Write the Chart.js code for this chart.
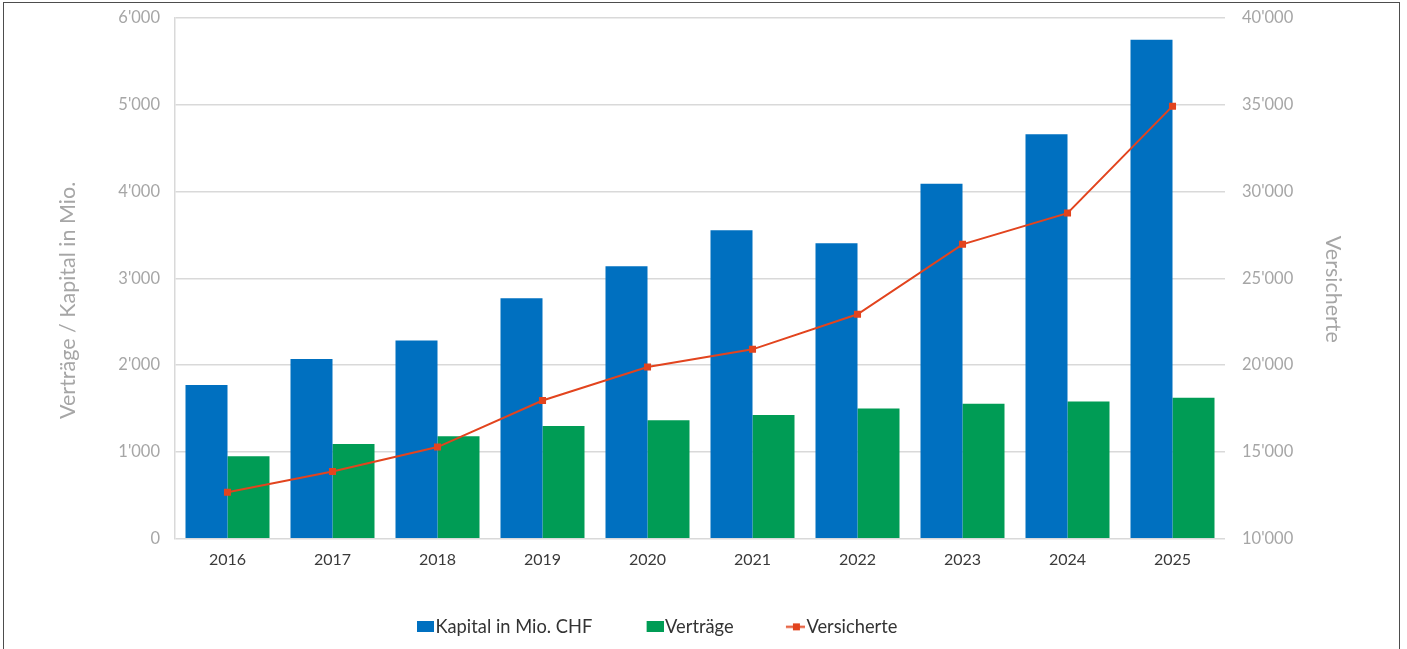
<!DOCTYPE html>
<html>
<head>
<meta charset="utf-8">
<script src="https://cdn.jsdelivr.net/npm/chart.js@4.4.1/dist/chart.umd.min.js"></script>
<style>
  html, body { margin: 0; padding: 0; background: #fff; overflow: hidden; }
  #wrap { position: relative; width: 1407px; height: 649px; }
  #frame { position: absolute; left: 3px; top: 2px; width: 1397px; height: 720px; border: 1.5px solid #4d4d4d; box-sizing: border-box; pointer-events: none; }
  canvas { position: absolute; left: 0; top: 0; }
</style>
</head>
<body>
<div id="wrap">
  <canvas id="myChart" width="1407" height="649" style="width:1407px;height:649px"></canvas>
  <div id="frame"></div>
</div>
<script>
const years = ['2016', '2017', '2018', '2019', '2020', '2021', '2022', '2023', '2024', '2025'];
const kapital = [1770, 2070, 2285, 2770, 3140, 3555, 3405, 4090, 4660, 5750];
const vertraege = [950, 1090, 1180, 1300, 1365, 1425, 1500, 1555, 1580, 1625];
const versicherte = [12680, 13870, 15280, 17960, 19890, 20910, 22930, 26960, 28760, 34920];

const BLUE = '#0070c0';
const GREEN = '#009c55';
const RED = '#e2441e';
const GREY = '#a6a6a6';
const FONT = 'Lato, "Open Sans", sans-serif';

// thousands with apostrophe, like 6'000
const fmt = (v) => String(v).replace(/\B(?=(\d{3})+(?!\d))/g, "'");

// legend keys: 17px mark at the right end, empty space on the left for spacing
const KEY_M = 17;
function keyBox(color) {
  const c = document.createElement('canvas');
  c.width = KEY_M + 17; c.height = 11;
  const g = c.getContext('2d');
  g.fillStyle = color;
  g.fillRect(KEY_M, 0, 17, 11);
  return c;
}
function keyLine(color) {
  const c = document.createElement('canvas');
  c.width = KEY_M + 17; c.height = 11;
  const g = c.getContext('2d');
  g.strokeStyle = color;
  g.lineWidth = 2;
  g.beginPath(); g.moveTo(KEY_M - 2, 5.5); g.lineTo(KEY_M + 17, 5.5); g.stroke();
  g.fillStyle = color;
  g.fillRect(KEY_M + 5, 2, 7, 7);
  return c;
}

// fixed tick-label overflow so the plot top sits where I want it
const trimPad = (scale) => { scale.paddingTop = 8; scale.paddingBottom = 8; };

// nudge legend to the left (it is not centred under the plot in the original)
const legendShift = {
  id: 'legendShift',
  afterLayout(chart, args, opts) {
    chart.legend.left += opts.dx;
    chart.legend.right += opts.dx;
  }
};

const ctx = document.getElementById('myChart').getContext('2d');

const data = {
  labels: years,
  datasets: [
    {
      type: 'bar',
      label: 'Kapital in Mio. CHF',
      data: kapital,
      backgroundColor: BLUE,
      yAxisID: 'y',
      order: 1
    },
    {
      type: 'bar',
      label: 'Verträge',
      data: vertraege,
      backgroundColor: GREEN,
      yAxisID: 'y',
      order: 2
    },
    {
      type: 'line',
      label: 'Versicherte',
      data: versicherte,
      borderColor: RED,
      backgroundColor: RED,
      borderWidth: 2,
      pointStyle: 'rect',
      pointRadius: 5,
      pointBorderWidth: 0,
      tension: 0,
      yAxisID: 'y1',
      order: 0
    }
  ]
};

const keys = [keyBox(BLUE), keyBox(GREEN), keyLine(RED)];

const config = {
  data: data,
  options: {
    responsive: false,
    animation: false,
    layout: {
      padding: { left: 51, right: 57, top: 18, bottom: 3 }
    },
    datasets: {
      bar: {
        categoryPercentage: 0.8,
        barPercentage: 1.0
      }
    },
    scales: {
      x: {
        grid: { display: false, drawTicks: false },
        border: { display: false },
        ticks: {
          color: '#3a3a3a',
          font: { family: FONT, size: 16 },
          padding: 12
        },
        afterFit(scale) { scale.height = 34; }
      },
      y: {
        position: 'left',
        min: 0,
        max: 6000,
        ticks: {
          stepSize: 1000,
          color: GREY,
          font: { family: FONT, size: 16.5 },
          padding: 15,
          callback: (v) => fmt(v)
        },
        grid: { color: '#d9d9d9', lineWidth: 1.5, drawTicks: false },
        border: { display: true, color: '#d9d9d9', width: 1.5 },
        title: {
          display: true,
          // trailing spaces push the visible words a bit down, as in the original
          text: 'Verträge / Kapital in Mio.        ',
          color: GREY,
          font: { family: FONT, size: 21.5 }
        },
        afterFit(scale) { scale.width = 124; trimPad(scale); }
      },
      y1: {
        position: 'right',
        min: 10000,
        max: 40000,
        ticks: {
          stepSize: 5000,
          color: GREY,
          font: { family: FONT, size: 16.5 },
          padding: 17,
          callback: (v) => fmt(v)
        },
        grid: { display: false, drawTicks: false },
        border: { display: false },
        title: {
          display: true,
          text: '    Versicherte',
          color: GREY,
          font: { family: FONT, size: 21.5 }
        },
        afterFit(scale) { scale.width = 125; trimPad(scale); }
      }
    },
    plugins: {
      legendShift: { dx: -48 },
      legend: {
        position: 'bottom',
        labels: {
          usePointStyle: true,
          pointStyleWidth: 18.7,
          padding: 45,
          color: '#333333',
          font: { family: FONT, size: 18.3 },
          generateLabels(chart) {
            return chart.data.datasets.map((ds, i) => ({
              text: ds.label,
              pointStyle: keys[i],
              fillStyle: ds.backgroundColor,
              strokeStyle: ds.backgroundColor,
              lineWidth: 0,
              fontColor: '#333333',
              hidden: false,
              datasetIndex: i
            }));
          }
        }
      },
      tooltip: { enabled: false }
    }
  },
  plugins: [legendShift]
};

new Chart(ctx, config);
</script>
</body>
</html>
